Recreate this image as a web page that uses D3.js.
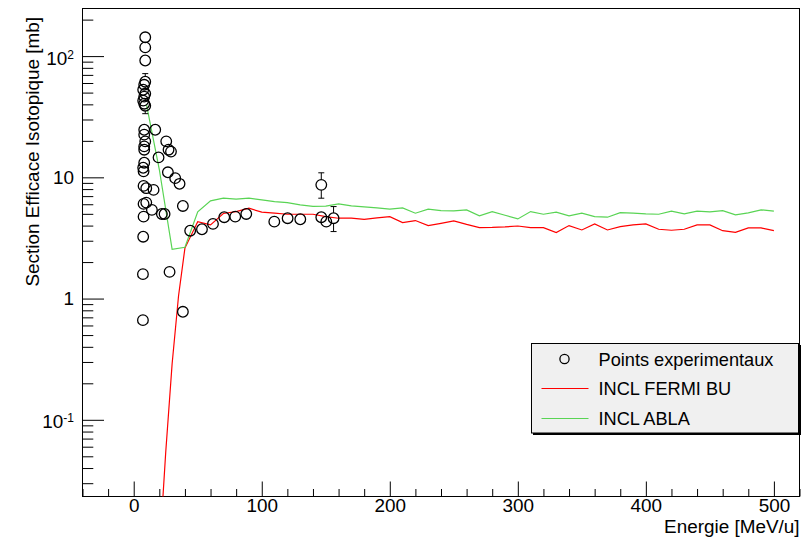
<!DOCTYPE html>
<html>
<head>
<meta charset="utf-8">
<script src="https://cdn.jsdelivr.net/npm/d3@7"></script>
<style>
  body { margin: 0; background: #fff; }
  svg { display: block; font-family: "Liberation Sans", Arial, sans-serif; }
</style>
</head>
<body>
<svg id="chart" width="807" height="540"></svg>
<script>
// experimental points (energy in MeV/u, cross section in mb)
const expEnergy = [9.0, 9.0, 9.0, 9.0, 8.2, 7.4, 9.0, 8.2, 7.4, 8.2, 9.0,
  8.2, 16.8, 8.2, 9.0, 8.2, 8.2, 25.4, 27.2, 29.1, 19.4, 8.2, 7.4, 7.7, 26.7,
  32.4, 35.8, 7.7, 9.8, 15.5, 7.7, 9.8, 14.2, 7.7, 22.0, 24.1, 38.4, 7.4, 7.2,
  28.0, 38.4, 7.2, 44.1, 53.3, 61.9, 70.7, 79.3, 87.9, 109.8, 120.2, 130.1,
  146.5, 146.5, 150.4, 156.1];
const expXS = [143, 118, 92, 61.5, 58, 52.8, 49, 46.3, 42.9, 40.5, 39,
  24.7, 24.7, 22.5, 19.8, 18.0, 16.9, 19.8, 16.9, 16.3, 14.6, 13.2, 12.0, 11.2, 11.0,
  9.85, 8.84, 8.5, 8.14, 7.88, 6.04, 6.19, 5.39, 4.74, 4.99, 4.99, 5.81, 3.24, 1.59,
  1.66, 0.778, 0.664, 3.63, 3.73, 4.13, 4.69, 4.74, 4.99, 4.31, 4.60, 4.51,
  8.67, 4.69, 4.31, 4.60];
// only the errors that stick out of the markers
const expErrLow = [0, 0, 0, 8, 0, 0, 0, 0, 0, 0, 5.5,
  0, 0, 0, 0, 0, 0, 0, 0, 0, 0, 0, 0, 0, 0,
  0, 0, 0, 0, 0, 0, 0, 0, 0, 0, 0, 0, 0, 0,
  0, 0, 0, 0, 0, 0, 0, 0, 0, 0, 0, 0,
  1.94, 0, 0, 1.03];
const expErrHigh = [0, 0, 0, 10.2, 0, 0, 0, 0, 0, 0, 5.5,
  0, 0, 0, 0, 0, 0, 0, 0, 0, 0, 0, 0, 0, 0,
  0, 0, 0, 0, 0, 0, 0, 0, 0, 0, 0, 0, 0, 0,
  0, 0, 0, 0, 0, 0, 0, 0, 0, 0, 0, 0,
  2.23, 0, 0, 1.14];

// INCL FERMI BU
const fermiEnergy = [20, 25, 30, 35, 40, 50, 60, 70, 80, 90, 100, 110, 120, 130,
  140, 150, 160, 170, 180, 190, 200, 210, 220, 230, 240, 250, 260, 270, 280, 290,
  300, 310, 320, 330, 340, 350, 360, 370, 380, 390, 400, 410, 420, 430, 440, 450,
  460, 470, 480, 490, 500];
const fermiXS = [0.0077, 0.054, 0.29, 1.05, 2.61, 4.31, 4.05, 5.03, 5.22, 5.56, 5.16,
  5.06, 4.96, 4.96, 4.96, 4.74, 4.60, 4.60, 4.50, 4.63, 4.74, 4.23, 4.40, 4.00, 4.17,
  4.37, 4.09, 3.85, 3.86, 3.90, 3.97, 3.85, 3.85, 3.50, 4.00, 3.68, 4.13, 3.68, 3.92,
  4.05, 4.13, 3.73, 3.66, 3.73, 4.05, 4.05, 3.63, 3.52, 3.83, 3.83, 3.63];

// INCL ABLA
const ablaEnergy = [10, 20, 30, 40, 50, 60, 70, 80, 90, 100, 110, 120, 130, 140,
  150, 160, 170, 180, 190, 200, 210, 220, 230, 240, 250, 260, 270, 280, 290, 300,
  310, 320, 330, 340, 350, 360, 370, 380, 390, 400, 410, 420, 430, 440, 450, 460,
  470, 480, 490, 500];
const ablaXS = [39.7, 11.6, 2.55, 2.65, 5.19, 6.40, 6.73, 6.61, 6.73, 6.52, 6.31,
  6.19, 5.93, 5.76, 5.78, 6.04, 5.81, 5.70, 5.60, 5.46, 5.60, 5.06, 5.46, 5.32, 5.28,
  5.39, 4.81, 5.22, 4.87, 4.54, 5.22, 4.96, 5.16, 4.81, 5.06, 4.74, 4.69, 5.12, 5.06,
  4.99, 4.96, 5.26, 4.99, 5.26, 5.19, 5.32, 4.90, 5.09, 5.39, 5.26];

const xTicks = [0, 100, 200, 300, 400, 500];
const xMinorTicks = [-40, -20, 20, 40, 60, 80, 120, 140, 160, 180, 220, 240, 260,
  280, 320, 340, 360, 380, 420, 440, 460, 480, 520];
const yTicks = [0.1, 1, 10, 100];
const yTickBase = ["10", "1", "10", "10"];
const yTickExp = ["-1", "", "", "2"];
const yMinorTicks = [0.03, 0.04, 0.05, 0.06, 0.07, 0.08, 0.09,
  0.2, 0.3, 0.4, 0.5, 0.6, 0.7, 0.8, 0.9,
  2, 3, 4, 5, 6, 7, 8, 9,
  20, 30, 40, 50, 60, 70, 80, 90, 200];

const legendLabels = ["Points experimentaux", "INCL FERMI BU", "INCL ABLA"];
const RED = "#ff0000";
const GREEN = "#59d454";

const svg = d3.select("#chart");
const fs = 18.9;

const frame = { left: 82.5, right: 799.5, top: 8.5, bottom: 496.5 };

const x = d3.scaleLinear().domain([-40, 520]).range([frame.left, frame.right]);
const y = d3.scaleLog().domain([0.0233, 247]).range([frame.bottom, frame.top]);

svg.append("rect").attr("width", 807).attr("height", 540).attr("fill", "#fff");

svg.append("clipPath").attr("id", "clip")
  .append("rect")
  .attr("x", frame.left).attr("y", frame.top)
  .attr("width", frame.right - frame.left).attr("height", frame.bottom - frame.top);

// x axis
const xMajor = svg.append("g")
  .attr("transform", `translate(0,${frame.bottom})`)
  .call(d3.axisBottom(x).tickValues(xTicks).tickSizeInner(-15).tickSizeOuter(0).tickPadding(2));
const xMinor = svg.append("g")
  .attr("transform", `translate(0,${frame.bottom})`)
  .call(d3.axisBottom(x).tickValues(xMinorTicks).tickSizeInner(-7.5).tickSizeOuter(0).tickFormat(""));

// y axis
const yMajor = svg.append("g")
  .attr("transform", `translate(${frame.left},0)`)
  .call(d3.axisLeft(y).tickValues(yTicks).tickSizeInner(-21.5).tickSizeOuter(0).tickPadding(8.5));
const yMinor = svg.append("g")
  .attr("transform", `translate(${frame.left},0)`)
  .call(d3.axisLeft(y).tickValues(yMinorTicks).tickSizeInner(-10.8).tickSizeOuter(0).tickFormat(""));

[xMajor, xMinor, yMajor, yMinor].forEach(g => {
  g.select(".domain").remove();
  g.selectAll("line").attr("stroke", "#000");
  g.selectAll("text").attr("fill", "#000").style("font-size", fs + "px")
    .style("font-family", '"Liberation Sans", Arial, sans-serif');
});

// y labels with exponents
yMajor.selectAll(".tick text").each(function(d, i) {
  const t = d3.select(this);
  t.text(null);
  if (yTickExp[i]) {
    t.attr("dy", "0.42em");
    t.append("tspan").text(yTickBase[i]);
    t.append("tspan").attr("dy", "-0.5em").style("font-size", "12px").text(yTickExp[i]);
  } else {
    t.append("tspan").text(yTickBase[i]);
  }
});

// frame
svg.append("rect")
  .attr("x", frame.left).attr("y", frame.top)
  .attr("width", frame.right - frame.left).attr("height", frame.bottom - frame.top)
  .attr("fill", "none").attr("stroke", "#000").attr("stroke-width", 1);

// axis titles
svg.append("text")
  .attr("x", frame.right).attr("y", 533)
  .attr("text-anchor", "end")
  .style("font-size", fs + "px")
  .text("Energie [MeV/u]");

svg.append("text")
  .attr("transform", "translate(38.5,17) rotate(-90)")
  .attr("text-anchor", "end")
  .style("font-size", fs + "px")
  .text("Section Efficace Isotopique [mb]");

// model curves
const plot = svg.append("g").attr("clip-path", "url(#clip)");

const fermiData = fermiEnergy.map((e, i) => ({ e, v: fermiXS[i] }));
const ablaData = ablaEnergy.map((e, i) => ({ e, v: ablaXS[i] }));

const line = d3.line().x(d => x(d.e)).y(d => y(d.v));

plot.append("path").datum(fermiData)
  .attr("d", line).attr("fill", "none").attr("stroke", RED).attr("stroke-width", 1.2);
plot.append("path").datum(ablaData)
  .attr("d", line).attr("fill", "none").attr("stroke", GREEN).attr("stroke-width", 1.2);

// experimental points
const R = 5.3;
const pts = expEnergy.map((e, i) => ({ e, v: expXS[i], lo: expErrLow[i], hi: expErrHigh[i] }));

const errG = plot.append("g").attr("stroke", "#000").attr("stroke-width", 1);
pts.filter(d => d.hi > 0 || d.lo > 0).forEach(d => {
  const cx = x(d.e), cy = y(d.v);
  const yHi = y(d.v + d.hi), yLo = y(d.v - d.lo);
  if (cy - R > yHi) {
    errG.append("line").attr("x1", cx).attr("x2", cx).attr("y1", yHi).attr("y2", cy - R);
    errG.append("line").attr("x1", cx - 3).attr("x2", cx + 3).attr("y1", yHi).attr("y2", yHi);
  }
  if (yLo > cy + R) {
    errG.append("line").attr("x1", cx).attr("x2", cx).attr("y1", cy + R).attr("y2", yLo);
    errG.append("line").attr("x1", cx - 3).attr("x2", cx + 3).attr("y1", yLo).attr("y2", yLo);
  }
});

plot.append("g").selectAll("circle")
  .data(pts)
  .enter()
  .append("circle")
  .attr("cx", d => x(d.e))
  .attr("cy", d => y(d.v))
  .attr("r", R)
  .attr("fill", "none")
  .attr("stroke", "#000")
  .attr("stroke-width", 1.3);

// legend
const lg = svg.append("g");
lg.append("rect")
  .attr("x", 533).attr("y", 345).attr("width", 268).attr("height", 90)
  .attr("fill", "#000");
lg.append("rect")
  .attr("x", 531.5).attr("y", 343.5).attr("width", 267).attr("height", 89.5)
  .attr("fill", "#f0f0f0").attr("stroke", "#000").attr("stroke-width", 1);

const rowY = [359, 388.5, 418.5];
lg.append("circle").attr("cx", 564.5).attr("cy", rowY[0]).attr("r", 4.6)
  .attr("fill", "none").attr("stroke", "#000").attr("stroke-width", 1.3);
lg.append("line").attr("x1", 541.5).attr("x2", 588.5).attr("y1", rowY[1]).attr("y2", rowY[1])
  .attr("stroke", RED).attr("stroke-width", 1.2);
lg.append("line").attr("x1", 541.5).attr("x2", 588.5).attr("y1", rowY[2]).attr("y2", rowY[2])
  .attr("stroke", GREEN).attr("stroke-width", 1.2);

lg.selectAll("text.lab")
  .data(legendLabels)
  .enter()
  .append("text")
  .attr("class", "lab")
  .attr("x", 598.5)
  .attr("y", (d, i) => rowY[i] + 6.6)
  .style("font-size", "18.2px")
  .text(d => d);
</script>
</body>
</html>
